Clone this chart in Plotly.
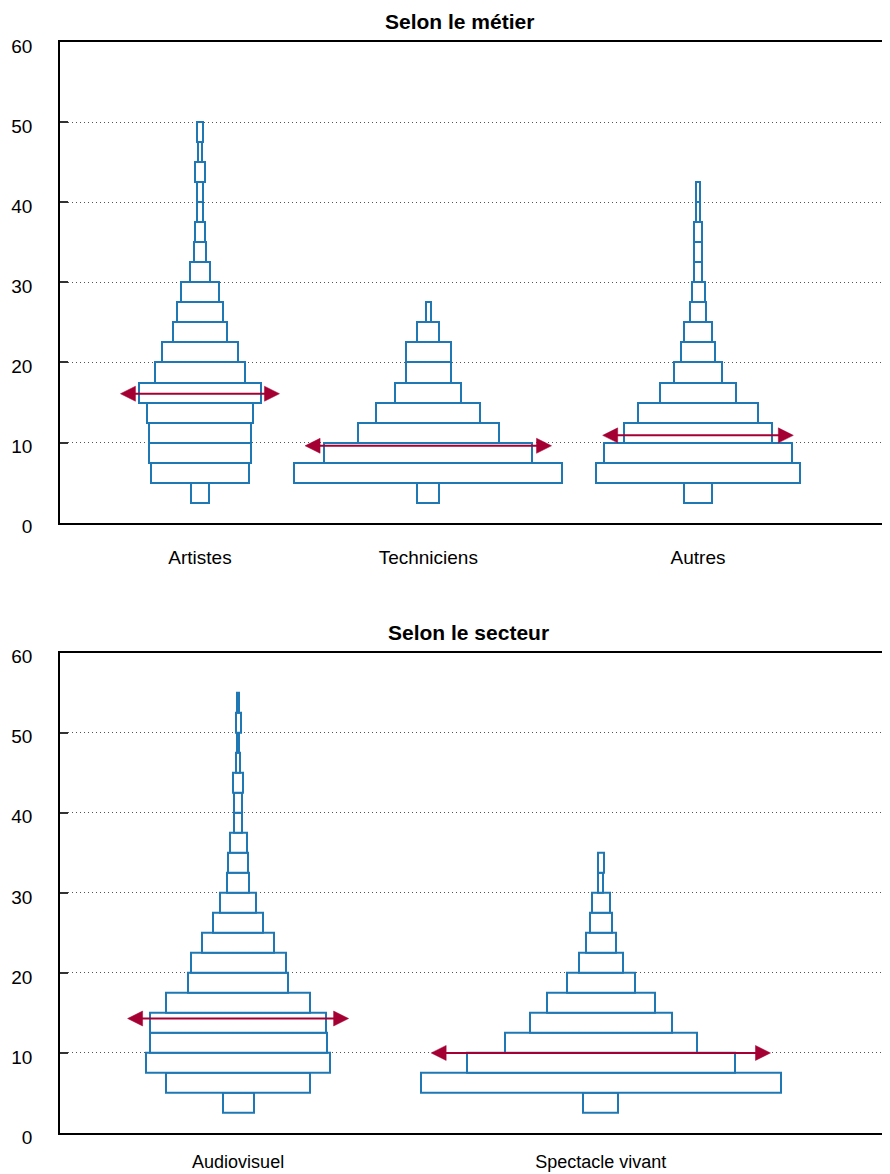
import plotly.graph_objects as go

# ---------------- data ----------------
BIN = 2.5
# top panel : "Selon le métier"
metier_names = ["Artistes", "Techniciens", "Autres"]
metier_start = [2.5, 2.5, 2.5]
artistes = [1.9, 10.5, 11.0, 11.0, 11.4, 13.1, 9.7, 8.2, 5.8, 4.9, 4.1, 2.2, 1.3, 1.1, 0.6, 0.6, 1.1, 0.4, 0.6]
techniciens = [2.4, 28.8, 22.4, 15.1, 11.2, 7.1, 4.9, 4.9, 2.4, 0.6]
autres = [3.1, 21.9, 20.2, 15.9, 12.9, 8.2, 5.2, 3.7, 3.1, 1.8, 1.4, 0.9, 0.9, 0.9, 0.5, 0.5]
metier_median = [16.1, 9.6, 10.9]
metier_arrow = [17.1, 26.5, 20.5]

# bottom panel : "Selon le secteur"
secteur_names = ["Audiovisuel", "Spectacle vivant"]
secteur_start = [2.5, 2.5]
audiovisuel = [2.4, 11.1, 14.2, 13.6, 13.5, 11.1, 7.7, 7.3, 5.5, 3.8, 2.8, 1.7, 1.5, 1.3,
               0.6, 0.6, 0.8, 0.25, 0.2, 0.4, 0.2]
spectacle = [2.7, 27.7, 20.6, 14.8, 10.9, 8.3, 5.2, 3.4, 2.3, 1.7, 1.4, 0.4, 0.45]
secteur_median = [14.3, 10.0]
secteur_arrow = [17.0, 26.1]

y_ticks = [0, 10, 20, 30, 40, 50, 60]

# ---------------- layout constants ----------------
# the page body adds a small margin, so the figure is drawn a bit smaller
W, H = 883, 1167
ML, MR, MT, MB = 52, 0, 34, 42
PW = W - ML - MR
PH = H - MT - MB
top_dom = [1 - 480.7 / PH, 1.0]
bot_dom = [0.0, 480.3 / PH]
top_xrange = [0, 89.35]
bot_xrange = [0, 63.92]
top_centers = [15.05, 39.6, 68.6]
bot_centers = [13.7, 41.6]

BLUE = "#1f77b4"
RED = "#a50034"
FONT = "Liberation Sans, Arial, Helvetica, sans-serif"

fig = go.Figure()


def add_panel(names, starts, series, medians, arrows, centers, xr, dom, xa, ya):
    ypx_per_unit = (dom[1] - dom[0]) * PH / 60.0
    xpx_per_unit = PW / (xr[1] - xr[0])
    tri_len = 15 / xpx_per_unit
    tri_half = 7.5 / ypx_per_unit
    for name, s0, vals, med, aw, cx in zip(names, starts, series, medians, arrows, centers):
        n = len(vals)
        bases = [s0 + i * BIN for i in range(n)]
        fig.add_trace(go.Bar(
            x=[cx] * n, y=[BIN] * n, base=bases, width=vals,
            marker=dict(color="white", line=dict(color=BLUE, width=2)),
            xaxis=xa, yaxis=ya, showlegend=False, name=name,
        ))
        left, right = cx - aw / 2, cx + aw / 2
        fig.add_trace(go.Scatter(
            x=[left + tri_len * 0.5, right - tri_len * 0.5], y=[med, med], mode="lines",
            line=dict(color=RED, width=2), xaxis=xa, yaxis=ya, showlegend=False,
            hoverinfo="skip",
        ))
        fig.add_trace(go.Scatter(
            x=[left, left + tri_len, left + tri_len, left, None,
               right, right - tri_len, right - tri_len, right],
            y=[med, med + tri_half, med - tri_half, med, None,
               med, med + tri_half, med - tri_half, med],
            mode="lines", fill="toself", fillcolor=RED, line=dict(color=RED, width=0.5),
            xaxis=xa, yaxis=ya, showlegend=False, hoverinfo="skip",
        ))


add_panel(metier_names, metier_start, [artistes, techniciens, autres],
          metier_median, metier_arrow, top_centers, top_xrange, top_dom, "x", "y")
add_panel(secteur_names, secteur_start, [audiovisuel, spectacle],
          secteur_median, secteur_arrow, bot_centers, bot_xrange, bot_dom, "x2", "y2")

yax = dict(range=[0, 60], tickvals=y_ticks, ticks="inside", ticklen=8, tickwidth=2,
           tickcolor="#333", showline=True, linecolor="black", linewidth=1.5,
           showgrid=True, gridcolor="#555", griddash="1px,3px", gridwidth=1,
           zeroline=False, tickfont=dict(family=FONT, size=19, color="black"),
           ticklabelstandoff=22, ticklabelshift=4, fixedrange=True, automargin=False)
xax = dict(ticks="", showline=True, linecolor="black", linewidth=1.5, mirror=True,
           showgrid=False, zeroline=False,
           fixedrange=True, automargin=False)

fig.update_layout(
    width=W, height=H,
    margin=dict(l=ML, r=MR, t=MT, b=MB),
    paper_bgcolor="white", plot_bgcolor="white",
    barmode="overlay", bargap=0,
    xaxis=dict(xax, domain=[0, 1], range=top_xrange, tickvals=top_centers,
               ticktext=metier_names, anchor="y", ticklabelstandoff=17,
               tickfont=dict(family=FONT, size=19, color="black")),
    yaxis=dict(yax, domain=top_dom, anchor="x"),
    xaxis2=dict(xax, domain=[0, 1], range=bot_xrange, tickvals=bot_centers,
                ticktext=secteur_names, anchor="y2", ticklabelstandoff=12,
                tickfont=dict(family=FONT, size=18, color="black")),
    yaxis2=dict(yax, domain=bot_dom, anchor="x2"),
    annotations=[
        dict(text="<b>Selon le métier</b>", xref="paper", yref="paper",
             x=(458 - 59) / PW, y=1 + 21 / PH, xanchor="center", yanchor="middle",
             showarrow=False, font=dict(family=FONT, size=21, color="black")),
        dict(text="<b>Selon le secteur</b>", xref="paper", yref="paper",
             x=(467 - 59) / PW, y=bot_dom[1] + 20.7 / PH, xanchor="center",
             yanchor="middle", showarrow=False,
             font=dict(family=FONT, size=21, color="black")),
    ],
)

fig.write_html("out.html")
